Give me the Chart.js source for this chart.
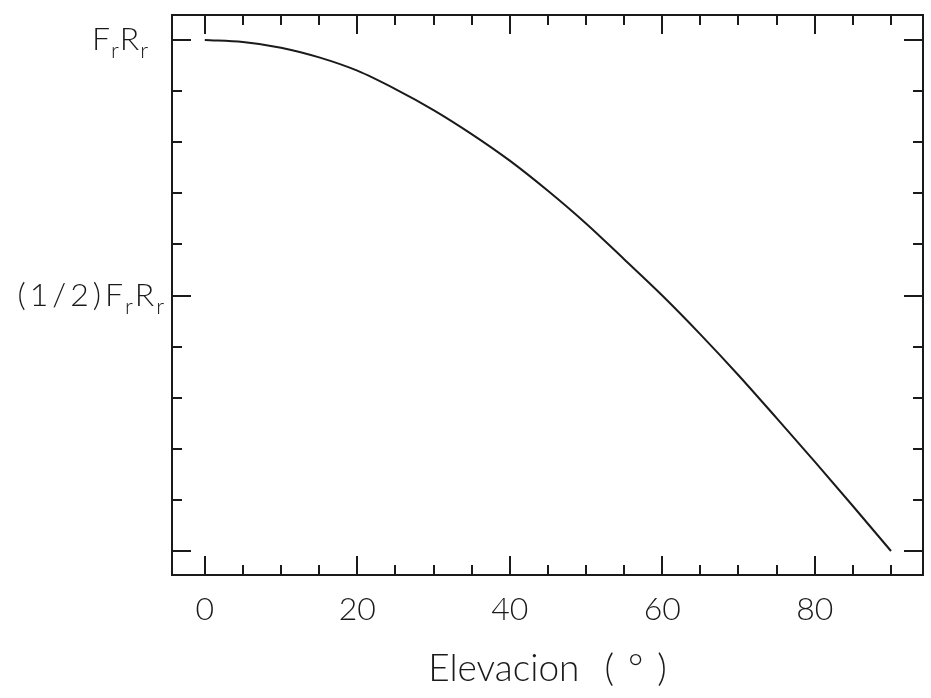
<!DOCTYPE html>
<html>
<head>
<meta charset="utf-8">
<script src="https://cdn.jsdelivr.net/npm/chart.js@4.4.1/dist/chart.umd.min.js"></script>
<style>
  html, body { margin: 0; padding: 0; background: #ffffff; }
  #wrap { width: 931px; height: 698px; }
</style>
</head>
<body>
<div id="wrap"><canvas id="c" width="931" height="698"></canvas></div>
<script>
// Elevation angle (degrees) and the resulting torque, as a fraction of Fr·Rr
const elevation = [0, 5, 10, 15, 20, 25, 30, 35, 40, 45, 50, 55, 60, 65, 70, 75, 80, 85, 90];
const torque = [1.0, 0.996, 0.985, 0.966, 0.94, 0.904, 0.863, 0.816, 0.764, 0.705, 0.641, 0.571, 0.5, 0.424, 0.344, 0.26, 0.175, 0.088, 0.0];

// Axis ticks
const xMajorTicks = [0, 20, 40, 60, 80];
const xMinorTicks = [5, 10, 15, 25, 30, 35, 45, 50, 55, 65, 70, 75, 85, 90];
const xTickLabels = ['0', '20', '40', '60', '80'];
const yMajorTicks = [0, 0.5, 1.0];
const yMinorTicks = [0.1, 0.2, 0.3, 0.4, 0.6, 0.7, 0.8, 0.9];
const yLabelValues = [1.0, 0.5];
// Each label is a run of [text, isSubscript] pieces
const yTickLabels = [
  [['F', false], ['r', true], ['R', false], ['r', true]],
  [['(1/2)', false], ['F', false], ['r', true], ['R', false], ['r', true]]
];
const xTitleParts = ['Elevacion', '(', '°', ')'];

const INK = '#1a1a1a';
const FONT = 'Lato, "DejaVu Sans", sans-serif';

const framePlugin = {
  id: 'frameAndTicks',
  afterDraw(chart) {
    const { ctx, chartArea: a, scales: { x, y } } = chart;
    ctx.save();
    ctx.strokeStyle = INK;
    ctx.fillStyle = INK;
    ctx.lineWidth = 2;
    ctx.lineCap = 'butt';

    // closed frame
    ctx.strokeRect(a.left, a.top, a.right - a.left, a.bottom - a.top);

    const majorLen = 19, minorLen = 10;
    ctx.beginPath();
    // x ticks, pointing inward from top and bottom
    const xTick = (v, len) => {
      const px = Math.round(x.getPixelForValue(v));
      ctx.moveTo(px, a.bottom); ctx.lineTo(px, a.bottom - len);
      ctx.moveTo(px, a.top); ctx.lineTo(px, a.top + len);
    };
    xMajorTicks.forEach(v => xTick(v, majorLen));
    xMinorTicks.forEach(v => xTick(v, minorLen));
    // y ticks, pointing inward from left and right
    const yTick = (v, len) => {
      const py = Math.round(y.getPixelForValue(v));
      ctx.moveTo(a.left, py); ctx.lineTo(a.left + len, py);
      ctx.moveTo(a.right, py); ctx.lineTo(a.right - len, py);
    };
    yMajorTicks.forEach(v => yTick(v, majorLen));
    yMinorTicks.forEach(v => yTick(v, minorLen));
    ctx.stroke();

    // x tick labels
    ctx.font = '300 32px ' + FONT;
    ctx.textAlign = 'center';
    ctx.textBaseline = 'middle';
    xMajorTicks.forEach((v, i) => {
      ctx.fillText(xTickLabels[i], x.getPixelForValue(v), a.bottom + 35);
    });

    // x axis title, written with the wide plotter-style spacing
    ctx.font = '300 37px ' + FONT;
    ctx.textAlign = 'left';
    ctx.textBaseline = 'alphabetic';
    const titleGaps = [0, 25, 14, 14];
    let widthSum = 0;
    xTitleParts.forEach((t, i) => { widthSum += titleGaps[i] + ctx.measureText(t).width; });
    let tx = (a.left + a.right) / 2 - widthSum / 2;
    xTitleParts.forEach((t, i) => {
      tx += titleGaps[i];
      ctx.fillText(t, tx, a.bottom + 106);
      tx += ctx.measureText(t).width;
    });

    // y tick labels with subscripts
    const mainFont = '300 32px ' + FONT;
    const subFont = '300 22px ' + FONT;
    const gaps = [23, 6];
    const charSpacing = [1, 2];
    ctx.textBaseline = 'middle';
    yLabelValues.forEach((v, i) => {
      const parts = yTickLabels[i];
      const spacingFor = t => (t.length > 1 ? 4 : charSpacing[i]);
      let total = 0;
      parts.forEach(([t, sub]) => {
        ctx.font = sub ? subFont : mainFont;
        total += ctx.measureText(t).width + spacingFor(t) * t.length;
      });
      let cx = a.left - gaps[i] - total;
      const cy = y.getPixelForValue(v);
      parts.forEach(([t, sub]) => {
        ctx.font = sub ? subFont : mainFont;
        const sp = spacingFor(t);
        for (const ch of t) {
          ctx.fillText(ch, cx, sub ? cy + 11 : cy);
          cx += ctx.measureText(ch).width + sp;
        }
      });
    });
    ctx.restore();
  }
};

new Chart(document.getElementById('c').getContext('2d'), {
  type: 'line',
  data: {
    datasets: [{
      data: elevation.map((e, i) => ({ x: e, y: torque[i] })),
      borderColor: INK,
      borderWidth: 2,
      pointRadius: 0,
      cubicInterpolationMode: 'monotone',
      fill: false
    }]
  },
  options: {
    responsive: false,
    animation: false,
    devicePixelRatio: 1,
    layout: { padding: { left: 172, right: 8, top: 15, bottom: 123 } },
    plugins: { legend: { display: false }, tooltip: { enabled: false } },
    scales: {
      x: { type: 'linear', min: -4.3, max: 94.2, display: false },
      y: { type: 'linear', min: -0.047, max: 1.049, display: false }
    }
  },
  plugins: [framePlugin]
});
</script>
</body>
</html>
